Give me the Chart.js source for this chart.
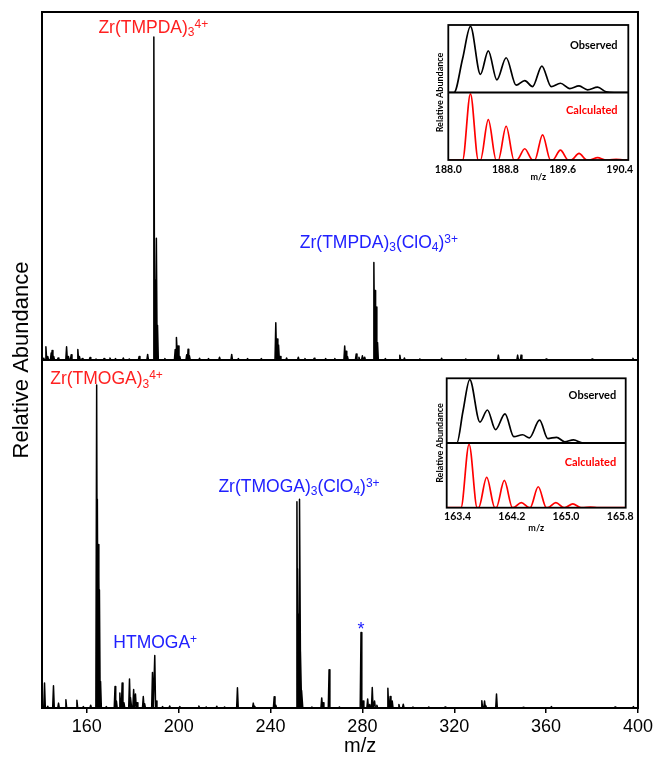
<!DOCTYPE html>
<html>
<head>
<meta charset="utf-8">
<script src="https://cdn.jsdelivr.net/npm/chart.js@4.4.1/dist/chart.umd.min.js"></script>
<style>
  html, body { margin: 0; padding: 0; background: #fff; }
  #wrap { position: relative; width: 656px; height: 757px; }
  canvas { position: absolute; }
  #main { left: 0; top: 0; }
  #insetTop { left: 420px; top: 15px; }
  #insetBot { left: 420px; top: 368px; }
</style>
</head>
<body>
<div id="wrap">
  <canvas id="main" width="656" height="757"></canvas>
  <canvas id="insetTop" width="220" height="172"></canvas>
  <canvas id="insetBot" width="220" height="172"></canvas>
</div>
<script>
const xTicks = [160, 200, 240, 280, 320, 360, 400];

// top panel: Zr(TMPDA) spectrum, peak m/z and relative height
const tmpdaMz = [141.0, 142.2, 143.0, 144.5, 144.9, 145.6, 147.5, 151.2, 152.0, 153.2, 156.1, 156.8, 158.0, 161.4, 164.0, 167.5,
  170.1, 172.5, 175.9, 178.5, 182.8, 186.5, 189.2, 189.6, 190.3, 190.8, 194.0, 198.5, 199.2, 199.8, 200.5, 203.5, 204.1, 204.7,
  209.1, 213.0, 217.8, 223.1, 226.0, 230.0, 236.0, 242.3, 242.9, 243.5, 244.2, 247.0, 252.1, 255.0, 259.0, 264.0, 268.0,
  272.3, 272.9, 273.5, 277.3, 278.5, 280.0, 281.0, 285.0, 285.5, 286.0, 286.6, 290.0, 296.3, 298.3, 305.0, 314.5, 325.0,
  339.2, 347.6, 349.1, 360.0, 380.0, 397.8];
const tmpdaInt = [0.005, 0.038, 0.01, 0.02, 0.027, 0.01, 0.006, 0.038, 0.01, 0.015, 0.03, 0.01, 0.004, 0.007, 0.003, 0.004,
  0.006, 0.004, 0.006, 0.003, 0.01, 0.016, 0.928, 0.23, 0.35, 0.1, 0.004, 0.03, 0.065, 0.04, 0.01, 0.015, 0.031, 0.012,
  0.005, 0.004, 0.008, 0.016, 0.004, 0.004, 0.004, 0.107, 0.06, 0.043, 0.01, 0.006, 0.008, 0.004, 0.005, 0.004, 0.004,
  0.04, 0.025, 0.01, 0.017, 0.008, 0.012, 0.008, 0.28, 0.2, 0.152, 0.05, 0.004, 0.014, 0.006, 0.003, 0.005, 0.003,
  0.014, 0.014, 0.014, 0.003, 0.003, 0.005];

// bottom panel: Zr(TMOGA) spectrum
const tmogaMz = [141.6, 143.0, 145.5, 147.7, 150.9, 155.7, 158.5, 161.7, 164.3, 164.6, 164.9, 165.2, 165.5, 166.0, 168.5,
  172.3, 172.9, 174.4, 175.4, 176.2, 178.6, 179.2, 180.4, 181.2, 181.9, 184.6, 185.2, 188.6, 189.6, 190.2, 193.0, 196.1,
  200.5, 208.8, 212.0, 216.6, 220.0, 225.6, 232.5, 233.2, 241.6, 242.3, 251.5, 251.9, 252.2, 252.8, 253.2, 253.7, 258.0,
  262.3, 262.9, 265.5, 270.0, 279.4, 280.3, 282.3, 283.2, 284.3, 285.3, 286.3, 291.1, 292.1, 293.0, 295.9, 297.8, 302.0,
  308.9, 316.0, 332.0, 333.2, 333.8, 338.4, 350.0, 362.3, 390.0, 398.0];
const tmogaInt = [0.072, 0.005, 0.064, 0.014, 0.024, 0.022, 0.004, 0.008, 0.928, 0.6, 0.47, 0.44, 0.34, 0.076, 0.004,
  0.062, 0.02, 0.043, 0.072, 0.015, 0.083, 0.03, 0.053, 0.04, 0.015, 0.033, 0.012, 0.102, 0.151, 0.02, 0.004, 0.006,
  0.004, 0.006, 0.003, 0.005, 0.003, 0.058, 0.014, 0.005, 0.032, 0.008, 0.593, 0.4, 0.27, 0.6, 0.162, 0.05, 0.003,
  0.029, 0.015, 0.11, 0.003, 0.217, 0.02, 0.026, 0.01, 0.059, 0.02, 0.008, 0.057, 0.033, 0.02, 0.01, 0.011, 0.003,
  0.003, 0.003, 0.021, 0.02, 0.008, 0.04, 0.002, 0.004, 0.003, 0.004];

// insets: isotope patterns
const tmpdaIsoTicks = [188.0, 188.8, 189.6, 190.4];
const tmpdaObsMz = [188.0, 188.08, 188.2, 188.31, 188.45, 188.56, 188.68, 188.81, 188.95, 189.07, 189.18, 189.31, 189.44,
  189.57, 189.70, 189.83, 189.95, 190.09, 190.21, 190.32, 190.52];
const tmpdaObsInt = [0, 0, 0.51, 1.0, 0.275, 0.63, 0.19, 0.525, 0.11, 0.18, 0.09, 0.40, 0.09, 0.14, 0.06, 0.10, 0.04, 0.08,
  0.01, 0, 0];
const tmpdaCalcMz = [188.0, 188.20, 188.31, 188.42, 188.45, 188.56, 188.67, 188.70, 188.81, 188.92, 188.96, 189.07, 189.18,
  189.21, 189.32, 189.43, 189.46, 189.57, 189.68, 189.72, 189.83, 189.94, 189.98, 190.09, 190.20, 190.24, 190.35, 190.46, 190.52];
const tmpdaCalcInt = [0, 0, 1.0, 0, 0, 0.61, 0, 0, 0.51, 0, 0, 0.17, 0, 0, 0.38, 0, 0, 0.15, 0, 0, 0.10, 0, 0, 0.035, 0, 0,
  0.01, 0, 0];

const tmogaIsoTicks = [163.4, 164.2, 165.0, 165.8];
const tmogaObsMz = [163.24, 163.39, 163.48, 163.58, 163.73, 163.84, 163.96, 164.10, 164.23, 164.36, 164.46, 164.61, 164.73,
  164.86, 164.98, 165.11, 165.25, 165.88];
const tmogaObsInt = [0, 0, 0.5, 1.0, 0.33, 0.52, 0.21, 0.46, 0.10, 0.13, 0.08, 0.36, 0.07, 0.09, 0.02, 0.05, 0, 0];
const tmogaCalcMz = [163.24, 163.45, 163.57, 163.69, 163.71, 163.83, 163.95, 163.97, 164.09, 164.21, 164.22, 164.34, 164.46,
  164.47, 164.59, 164.71, 164.73, 164.85, 164.97, 164.98, 165.10, 165.22, 165.24, 165.36, 165.48, 165.88];
const tmogaCalcInt = [0, 0, 1.0, 0, 0, 0.48, 0, 0, 0.43, 0, 0, 0.08, 0, 0, 0.33, 0, 0, 0.08, 0, 0, 0.06, 0, 0, 0.01, 0, 0];

const FONT = "'Liberation Sans', Arial, sans-serif";
const INSET_FONT = "Lato, 'Liberation Sans', sans-serif";
const RED = "#ff2020";
const BLUE = "#2020ff";

// each peak becomes a thin spike on the baseline
function trace(mz, inten, from, to) {
  const pts = [{ x: from, y: 0 }];
  mz.forEach((m, i) => {
    pts.push({ x: m - 0.35, y: 0 }, { x: m, y: inten[i] }, { x: m + 0.35, y: 0 });
  });
  pts.push({ x: to, y: 0 });
  return pts;
}

function curve(mz, inten) {
  return mz.map((m, i) => ({ x: m, y: inten[i] }));
}

const frame = {
  id: "frame",
  afterDatasetsDraw(chart, args, opts) {
    const { ctx, chartArea: a } = chart;
    const mid = chart.scales[opts.split].bottom;
    ctx.save();
    ctx.strokeStyle = "#000";
    ctx.lineWidth = opts.width;
    ctx.strokeRect(a.left, a.top, a.width, a.height);
    ctx.beginPath();
    ctx.moveTo(a.left, mid);
    ctx.lineTo(a.right, mid);
    ctx.stroke();
    ctx.restore();
  }
};

// text with sub/superscripts, anchored at data coordinates
const richLabels = {
  id: "richLabels",
  afterDraw(chart, args, opts) {
    const ctx = chart.ctx;
    ctx.save();
    (opts.items || []).forEach((item) => {
      const px = chart.scales.x.getPixelForValue(item.x);
      const py = chart.scales[item.axis].getPixelForValue(item.y);
      const weight = item.bold ? "bold " : "";
      const big = `${weight}${item.size}px ${item.family || FONT}`;
      const small = `${weight}${item.small || item.size}px ${item.family || FONT}`;
      const parts = item.parts.map(([t, kind]) => {
        ctx.font = kind ? small : big;
        return { t, kind, w: ctx.measureText(t).width };
      });
      const total = parts.reduce((s, p) => s + p.w, 0);
      let x = item.align === "right" ? px - total : px - total / 2;
      ctx.fillStyle = item.color;
      ctx.textAlign = "left";
      ctx.textBaseline = "alphabetic";
      parts.forEach((p) => {
        ctx.font = p.kind ? small : big;
        const dy = p.kind === "sub" ? 3.5 : p.kind === "sup" ? -5 : 0;
        ctx.fillText(p.t, x, py + dy);
        x += p.w;
      });
    });
    ctx.restore();
  }
};

const lineStyle = {
  borderColor: "#000",
  borderWidth: 1.5,
  pointRadius: 0,
  tension: 0,
  borderJoinStyle: "round"
};

// left-side stacked axes are laid out bottom first, so the lower panel is declared first
new Chart(document.getElementById("main"), {
  type: "line",
  data: {
    datasets: [
      { data: trace(tmpdaMz, tmpdaInt, 140.5, 400), yAxisID: "yTop", ...lineStyle },
      { data: trace(tmogaMz, tmogaInt, 140.5, 400), yAxisID: "yBot", ...lineStyle }
    ]
  },
  options: {
    responsive: false,
    animation: false,
    layout: { padding: { left: 0, top: 12, right: 17, bottom: 0 } },
    scales: {
      x: {
        type: "linear",
        min: 140.5,
        max: 400,
        afterBuildTicks: (s) => { s.ticks = xTicks.map((v) => ({ value: v })); },
        afterFit: (s) => { s.height = 49; },
        border: { display: false },
        grid: { display: true, drawOnChartArea: false, tickLength: 5, color: "#000", lineWidth: 1.5 },
        ticks: { color: "#000", font: { family: FONT, size: 18 }, padding: 3, maxRotation: 0, autoSkip: false }
      },
      yTitle: {
        position: "left",
        afterFit: (s) => { s.width = 42; },
        border: { display: false },
        grid: { display: false, drawTicks: false },
        ticks: { display: false },
        title: {
          display: true,
          text: "Relative Abundance",
          color: "#000",
          font: { family: FONT, size: 22 },
          padding: { top: 9, bottom: 0 }
        }
      },
      yBot: { position: "left", stack: "spec", display: false, min: 0, max: 1 },
      yTop: { position: "left", stack: "spec", display: false, min: 0, max: 1 }
    },
    plugins: {
      legend: { display: false },
      tooltip: { enabled: false },
      frame: { split: "yTop", width: 2 },
      richLabels: {
        items: [
          { axis: "yTop", x: 188.97, y: 0.94, color: RED, size: 17.5, small: 12,
            parts: [["Zr(TMPDA)"], ["3", "sub"], ["4+", "sup"]] },
          { axis: "yTop", x: 287.2, y: 0.322, color: BLUE, size: 17.5, small: 12,
            parts: [["Zr(TMPDA)"], ["3", "sub"], ["(ClO"], ["4", "sub"], [")"], ["3+", "sup"]] },
          { axis: "yBot", x: 168.6, y: 0.931, color: RED, size: 17.5, small: 12,
            parts: [["Zr(TMOGA)"], ["3", "sub"], ["4+", "sup"]] },
          { axis: "yBot", x: 252.4, y: 0.621, color: BLUE, size: 17.5, small: 12,
            parts: [["Zr(TMOGA)"], ["3", "sub"], ["(ClO"], ["4", "sub"], [")"], ["3+", "sup"]] },
          { axis: "yBot", x: 189.8, y: 0.172, color: BLUE, size: 17.5, small: 12,
            parts: [["HTMOGA"], ["+", "sup"]] },
          { axis: "yBot", x: 279.4, y: 0.21, color: BLUE, size: 18, parts: [["*"]] },
          { axis: "yBot", x: 279.0, y: -0.125, color: "#000", size: 20, parts: [["m/z"]] }
        ]
      }
    }
  },
  plugins: [frame, richLabels]
});

function insetChart(id, obs, calc, ticks, range, geo) {
  new Chart(document.getElementById(id), {
    type: "line",
    data: {
      datasets: [
        { data: obs, yAxisID: "yObs", borderColor: "#000", borderWidth: 1.7, pointRadius: 0, tension: 0.4,
          cubicInterpolationMode: "monotone" },
        { data: calc, yAxisID: "yCalc", borderColor: "#ff0000", borderWidth: 1.7, pointRadius: 0, tension: 0.4,
          cubicInterpolationMode: "monotone" }
      ]
    },
    options: {
      responsive: false,
      animation: false,
      layout: { padding: { left: 0, top: geo.top, right: geo.right, bottom: 0 } },
      scales: {
        x: {
          type: "linear",
          min: range[0],
          max: range[1],
          afterBuildTicks: (s) => { s.ticks = ticks.map((v) => ({ value: v })); },
          afterFit: (s) => { s.height = geo.xh; },
          border: { display: false },
          grid: { display: false, drawTicks: false },
          ticks: {
            color: "#000",
            font: { family: INSET_FONT, size: 10.5, weight: "bold" },
            padding: 3,
            maxRotation: 0,
            autoSkip: false,
            callback: (v) => Number(v).toFixed(1)
          },
          title: {
            display: true,
            text: "m/z",
            color: "#000",
            font: { family: INSET_FONT, size: 9, weight: "bold" },
            padding: { top: 0, bottom: geo.titleBottom }
          }
        },
        yTitle: {
          position: "left",
          afterFit: (s) => { s.width = geo.yw; },
          border: { display: false },
          grid: { display: false, drawTicks: false },
          ticks: { display: false },
          title: {
            display: true,
            text: "Relative Abundance",
            color: "#000",
            font: { family: INSET_FONT, size: 9, weight: "bold" },
            padding: { top: 15, bottom: 0 }
          }
        },
        yCalc: { position: "left", stack: "iso", display: false, min: 0, max: 1.02 },
        yObs: { position: "left", stack: "iso", display: false, min: 0, max: 1.02 }
      },
      plugins: {
        legend: { display: false },
        tooltip: { enabled: false },
        frame: { split: "yObs", width: 1.8 },
        richLabels: {
          items: [
            { axis: "yObs", x: geo.textX, y: geo.obsY, color: "#000", size: 11, bold: true, family: INSET_FONT,
              align: "right", parts: [["Observed"]] },
            { axis: "yCalc", x: geo.textX, y: geo.calcY, color: "#ff0000", size: 11, bold: true, family: INSET_FONT,
              align: "right", parts: [["Calculated"]] }
          ]
        }
      }
    },
    plugins: [frame, richLabels]
  });
}

insetChart("insetTop", curve(tmpdaObsMz, tmpdaObsInt), curve(tmpdaCalcMz, tmpdaCalcInt), tmpdaIsoTicks, [188.0, 190.52],
  { top: 10, right: 11.7, xh: 27, yw: 28.3, titleBottom: 5, textX: 190.37, obsY: 0.66, calcY: 0.7 });

insetChart("insetBot", curve(tmogaObsMz, tmogaObsInt), curve(tmogaCalcMz, tmogaCalcInt), tmogaIsoTicks, [163.24, 165.88],
  { top: 10.3, right: 14.3, xh: 32.3, yw: 26.7, titleBottom: 6.6, textX: 165.74, obsY: 0.7, calcY: 0.66 });
</script>
</body>
</html>
